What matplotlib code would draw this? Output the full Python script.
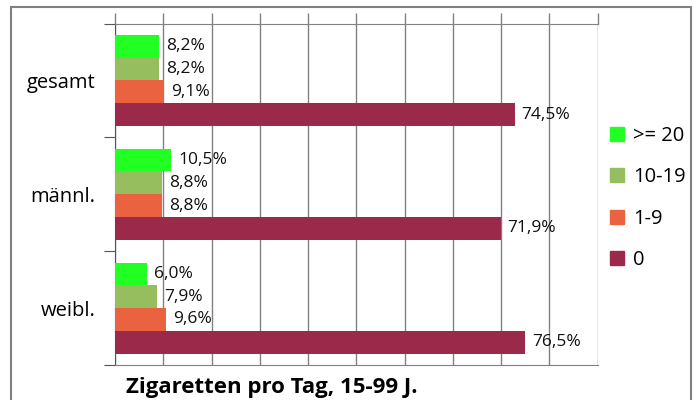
import matplotlib
matplotlib.use("Agg")
import matplotlib.pyplot as plt
from matplotlib.patches import Rectangle
from matplotlib.lines import Line2D

plt.rcParams["font.family"] = ["Open Sans", "DejaVu Sans"]

# data
groups = ["gesamt", "männl.", "weibl."]
series = [">= 20", "10-19", "1-9", "0"]
colors = ["#22ff22", "#97be5e", "#eb6241", "#9a294a"]
values = [
    [8.2, 10.5, 6.0],    # >= 20
    [8.2, 8.8, 7.9],     # 10-19
    [9.1, 8.8, 9.6],     # 1-9
    [74.5, 71.9, 76.5],  # 0
]
title = "Zigaretten pro Tag, 15-99 J."

fig = plt.figure(figsize=(6.96, 4.0), dpi=100)
ax = fig.add_axes([115 / 696, 1 - 365 / 400, (597.7 - 115) / 696, (365 - 23.5) / 400])

bar_h = 0.2
offsets = [-0.3, -0.1, 0.1, 0.3]
for vals, off, col in zip(values, offsets, colors):
    pos = [i + off for i in range(len(groups))]
    ax.barh(pos, vals, height=bar_h, color=col, zorder=3)
    for p, v in zip(pos, vals):
        ax.annotate(f"{v:.1f}".replace(".", ",") + "%", (v, p),
                    xytext=(5, 0), textcoords="offset points",
                    va="center", ha="left", fontsize=12.5, color="#111111")

ax.set_xlim(0, 90)
ax.set_ylim(2.5, -0.5)

gray = "#808080"
ax.set_xticks(range(0, 91, 9))
ax.tick_params(axis="x", top=True, bottom=False, length=8, width=1, color=gray,
               labeltop=False, labelbottom=False)
ax.grid(axis="x", color=gray, linewidth=1, zorder=0)

ax.set_yticks([-0.5, 0.5, 1.5, 2.5])
ax.set_yticklabels([])
ax.set_yticks(range(len(groups)), minor=True)
ax.set_yticklabels(groups, minor=True, fontsize=14.5)
ax.tick_params(axis="y", which="major", length=8, color="#555555")
ax.tick_params(axis="y", which="minor", length=0, pad=14)

for s in ["top", "bottom"]:
    ax.spines[s].set_color(gray)
ax.spines["left"].set_color("#555555")
ax.spines["right"].set_visible(False)

handles = [Line2D([], [], marker="s", linestyle="none", markersize=9.5,
                  markerfacecolor=c, markeredgecolor=c) for c in colors]
fig.legend(handles, series, loc="upper left", bbox_to_anchor=(589 / 696, 1 - 108 / 400),
           frameon=False, fontsize=14.5, labelspacing=1.06, handletextpad=0.3,
           handlelength=1.0)

fig.text(126 / 696, 1 - 388 / 400, title, fontsize=16, fontweight="bold",
         ha="left", va="center")

fig.patches.append(Rectangle((11 / 696, -0.02), (690.7 - 11) / 696, 1 - 7 / 400 + 0.02,
                             transform=fig.transFigure, fill=False,
                             edgecolor="#808080", linewidth=1.5))

fig.savefig("out.png", dpi=100)
